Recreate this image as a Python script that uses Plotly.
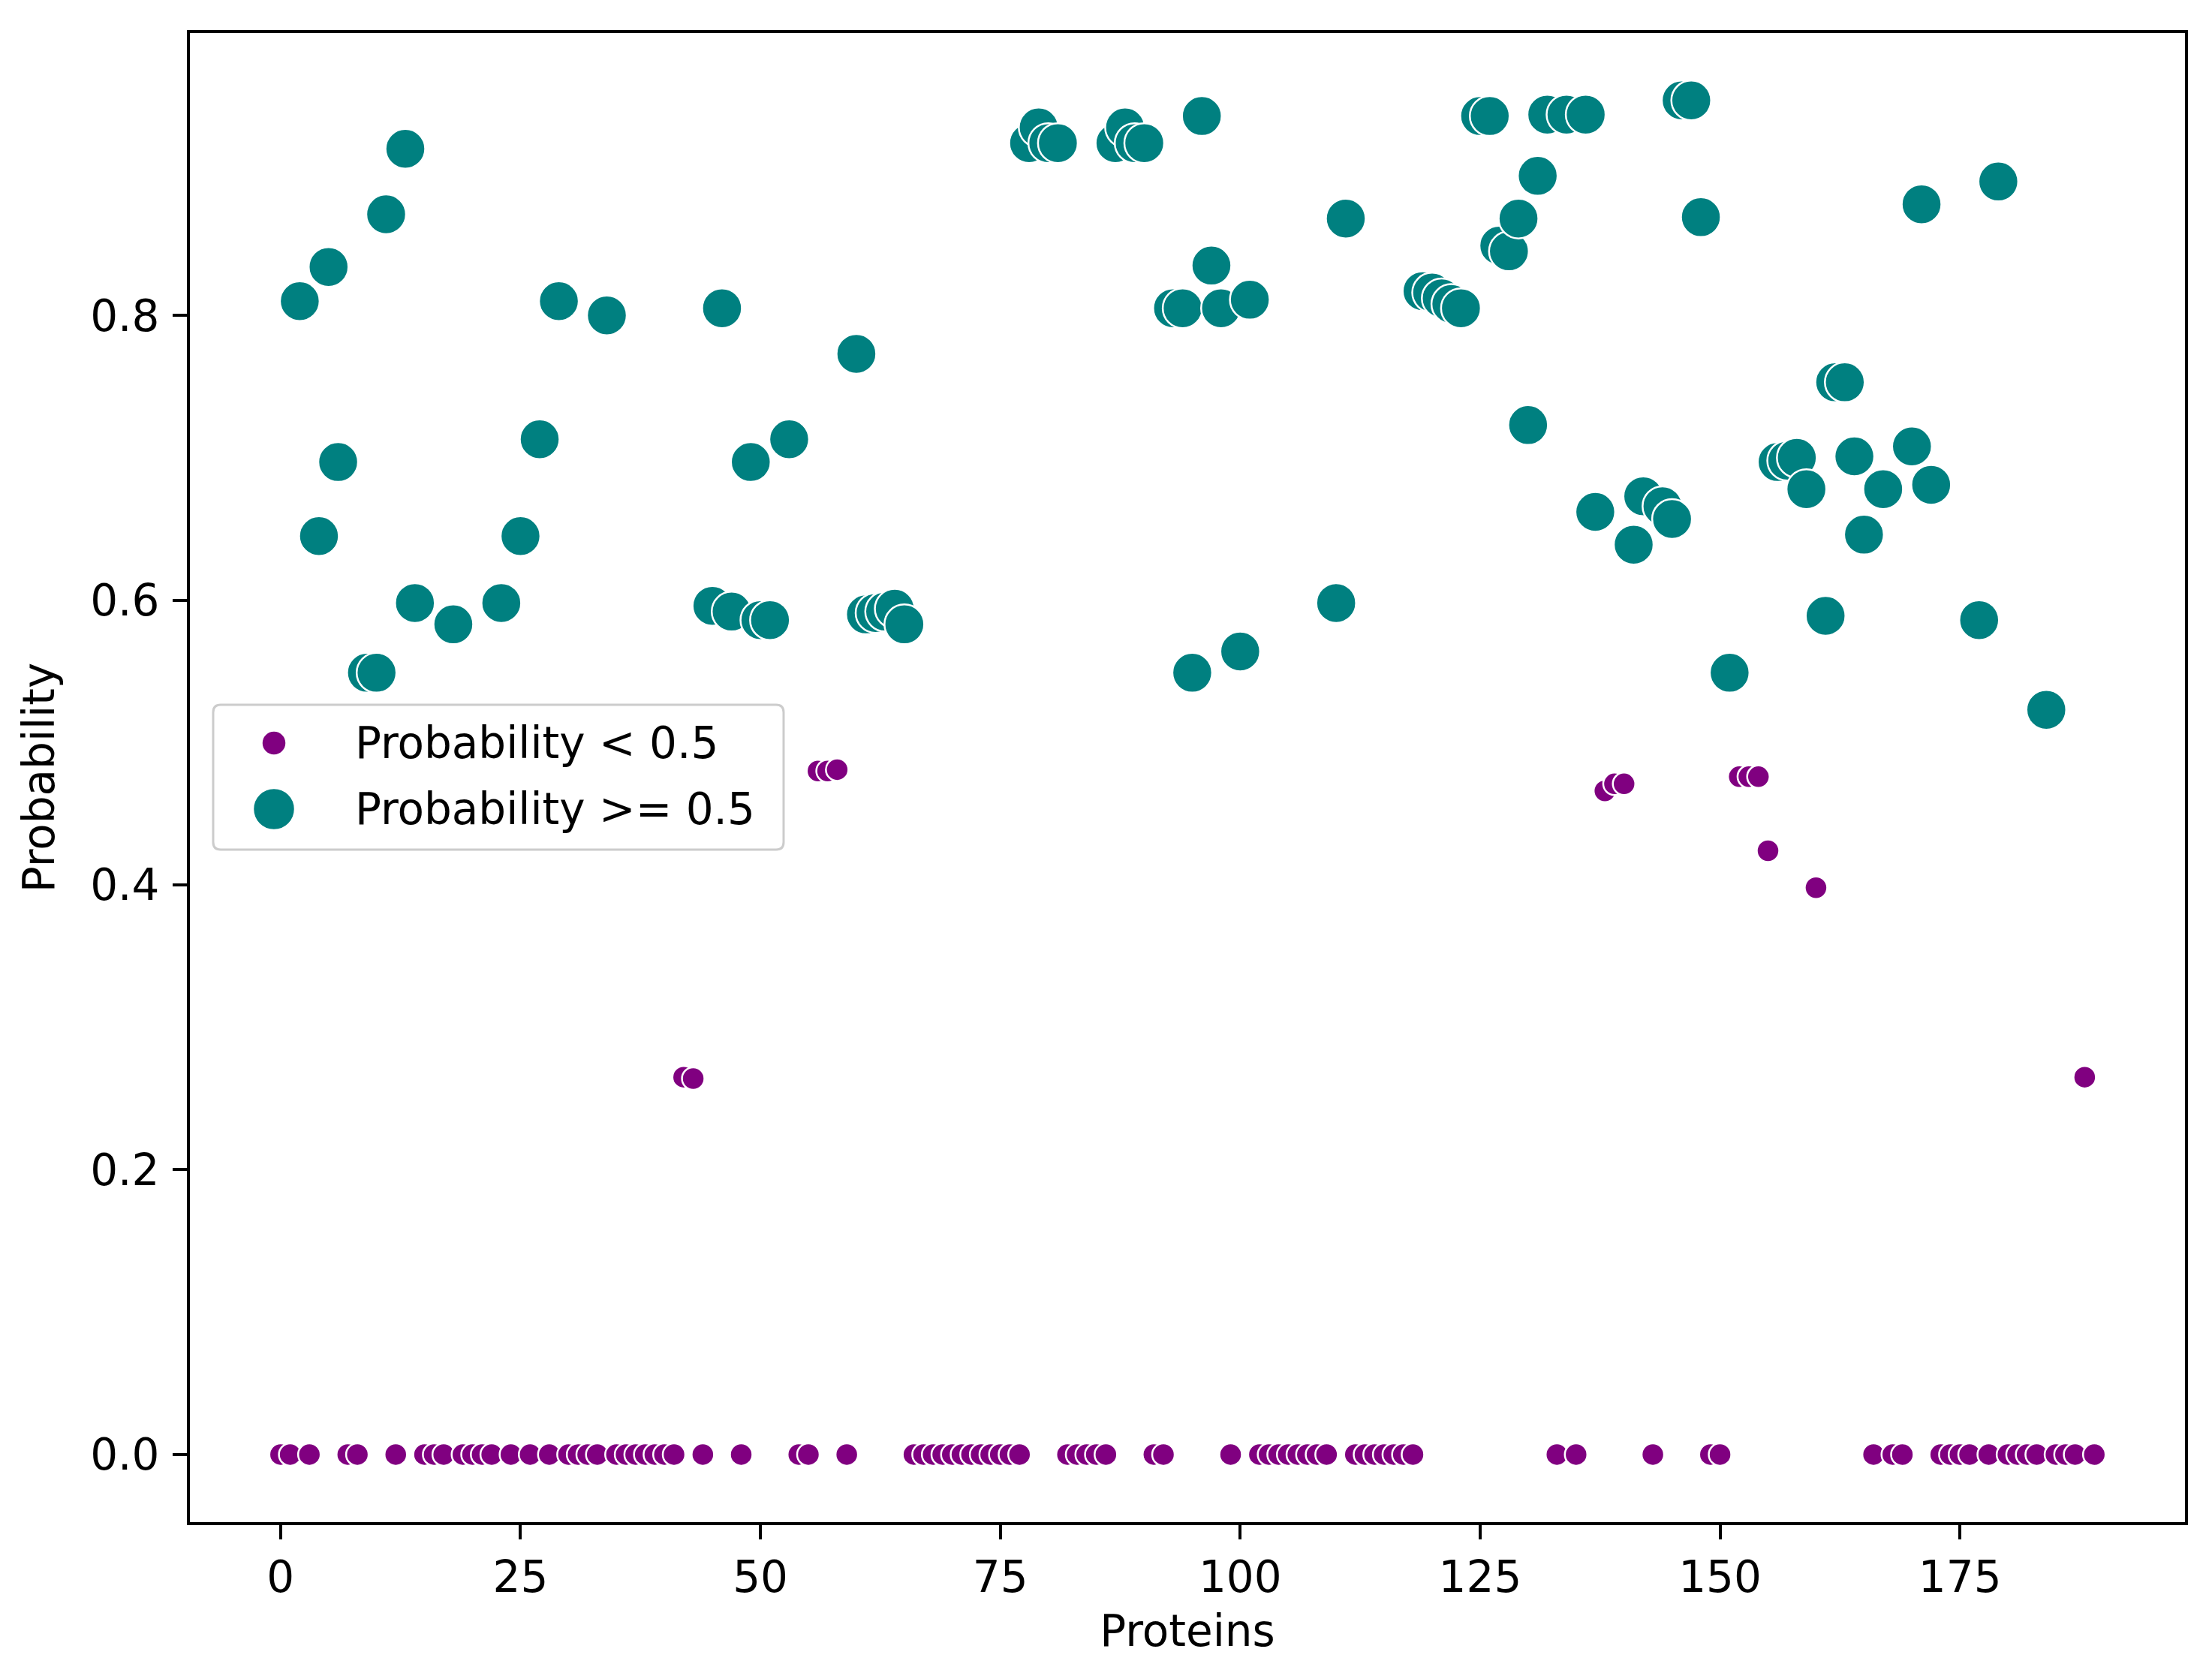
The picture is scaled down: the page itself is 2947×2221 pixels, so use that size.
import plotly.graph_objects as go

# ---------------- data ----------------
protein_id = [
    0, 1, 2, 3, 4, 5, 6, 7, 8, 9, 10, 11, 12, 13, 14, 15, 16, 17, 18, 19,
    20, 21, 22, 23, 24, 25, 26, 27, 28, 29, 30, 31, 32, 33, 34, 35, 36, 37, 38, 39,
    40, 41, 42, 43, 44, 45, 46, 47, 48, 49, 50, 51, 53, 54, 55, 56, 57, 58, 59,
    60, 61, 62, 63, 64, 65, 66, 67, 68, 69, 70, 71, 72, 73, 74, 75, 76, 77, 78, 79,
    80, 81, 82, 83, 84, 85, 86, 87, 88, 89, 90, 91, 92, 93, 94, 95, 96, 97, 98, 99,
    100, 101, 102, 103, 104, 105, 106, 107, 108, 109, 110, 111, 112, 113, 114, 115, 116, 117, 118, 119,
    120, 121, 122, 123, 125, 126, 127, 128, 129, 130, 131, 132, 133, 134, 135, 136, 137, 138, 139,
    140, 141, 142, 143, 144, 145, 146, 147, 148, 149, 150, 151, 152, 153, 154, 155, 156, 157, 158, 159,
    160, 161, 162, 163, 164, 165, 166, 167, 168, 169, 170, 171, 172, 173, 174, 175, 176, 177, 178, 179,
    180, 181, 182, 183, 184, 185, 186, 187, 188, 189,
]
probability = [
    0.0, 0.0, 0.810, 0.0, 0.645, 0.834, 0.697, 0.0, 0.0, 0.549, 0.549, 0.871, 0.0, 0.917, 0.598, 0.0, 0.0, 0.0, 0.583, 0.0,
    0.0, 0.0, 0.0, 0.598, 0.0, 0.645, 0.0, 0.713, 0.0, 0.810, 0.0, 0.0, 0.0, 0.0, 0.800, 0.0, 0.0, 0.0, 0.0, 0.0,
    0.0, 0.0, 0.265, 0.264, 0.0, 0.596, 0.805, 0.592, 0.0, 0.697, 0.586, 0.586, 0.713, 0.0, 0.0, 0.480, 0.480, 0.481, 0.0,
    0.773, 0.590, 0.591, 0.592, 0.594, 0.583, 0.0, 0.0, 0.0, 0.0, 0.0, 0.0, 0.0, 0.0, 0.0, 0.0, 0.0, 0.0, 0.921, 0.932,
    0.921, 0.921, 0.0, 0.0, 0.0, 0.0, 0.0, 0.921, 0.932, 0.921, 0.921, 0.0, 0.0, 0.805, 0.805, 0.549, 0.940, 0.835, 0.805, 0.0,
    0.564, 0.811, 0.0, 0.0, 0.0, 0.0, 0.0, 0.0, 0.0, 0.0, 0.598, 0.868, 0.0, 0.0, 0.0, 0.0, 0.0, 0.0, 0.0, 0.817,
    0.816, 0.812, 0.808, 0.805, 0.940, 0.940, 0.849, 0.845, 0.868, 0.723, 0.898, 0.941, 0.0, 0.941, 0.0, 0.941, 0.662, 0.466, 0.471,
    0.471, 0.639, 0.673, 0.0, 0.666, 0.657, 0.951, 0.951, 0.869, 0.0, 0.0, 0.549, 0.476, 0.476, 0.476, 0.424, 0.697, 0.698, 0.700, 0.678,
    0.398, 0.589, 0.753, 0.753, 0.701, 0.646, 0.0, 0.678, 0.0, 0.0, 0.708, 0.878, 0.681, 0.0, 0.0, 0.0, 0.0, 0.586, 0.0, 0.894,
    0.0, 0.0, 0.0, 0.0, 0.523, 0.0, 0.0, 0.0, 0.265, 0.0,
]
threshold = 0.5
group_labels = ["Probability < 0.5", "Probability >= 0.5"]
x_ticks = [0, 25, 50, 75, 100, 125, 150, 175]
y_ticks = [0.0, 0.2, 0.4, 0.6, 0.8]
y_tick_labels = ["0.0", "0.2", "0.4", "0.6", "0.8"]

# ---------------- style ----------------
W, H = 2947, 2221
L, R, T, B = 245, 44, 36, 201
PURPLE, TEAL = "#800080", "#008080"
FONT = "DejaVu Sans"
FS = 58
size_low, size_high = 30, 53

low_x = [i for i, p in zip(protein_id, probability) if p < threshold]
low_y = [p for p in probability if p < threshold]
high_x = [i for i, p in zip(protein_id, probability) if p >= threshold]
high_y = [p for p in probability if p >= threshold]

fig = go.Figure()
fig.add_trace(go.Scatter(
    x=low_x, y=low_y, mode="markers", name=group_labels[0], showlegend=False,
    marker=dict(color=PURPLE, size=size_low, line=dict(color="white", width=2.5)),
))
fig.add_trace(go.Scatter(
    x=high_x, y=high_y, mode="markers", name=group_labels[1], showlegend=False,
    marker=dict(color=TEAL, size=size_high, line=dict(color="white", width=2.5)),
))

pw, ph = W - L - R, H - T - B


def px(xp):
    return (xp - L) / pw


def py(yp):
    return (H - B - yp) / ph


def rounded_rect(x0, y0, x1, y1, r):
    # pixel box -> paper path with rounded corners
    pts = [
        ("M", [(x0 + r, y0)]), ("L", [(x1 - r, y0)]), ("Q", [(x1, y0), (x1, y0 + r)]),
        ("L", [(x1, y1 - r)]), ("Q", [(x1, y1), (x1 - r, y1)]),
        ("L", [(x0 + r, y1)]), ("Q", [(x0, y1), (x0, y1 - r)]),
        ("L", [(x0, y0 + r)]), ("Q", [(x0, y0), (x0 + r, y0)]),
    ]
    s = ""
    for cmd, coords in pts:
        s += cmd + " " + " ".join(f"{px(a):.5f},{py(b):.5f}" for a, b in coords) + " "
    return s + "Z"


# legend drawn with shapes so marker sizes match the plot
shapes = [dict(type="path", xref="paper", yref="paper",
               path=rounded_rect(276, 931, 1036, 1124, 10),
               line=dict(color="#cccccc", width=3), fillcolor="rgba(255,255,255,0.8)",
               layer="above")]
annotations = []
rows = [(982, PURPLE, size_low), (1070, TEAL, size_high)]
for (yy, col, sz), lab in zip(rows, group_labels):
    r = (sz + 2.5) / 2
    shapes.append(dict(type="circle", xref="paper", yref="paper",
                       xsizemode="pixel", ysizemode="pixel",
                       xanchor=px(357), yanchor=py(yy),
                       x0=-r, x1=r, y0=-r, y1=r,
                       fillcolor=col, line=dict(color="white", width=2), layer="above"))
    annotations.append(dict(xref="paper", yref="paper", x=px(463), y=py(yy),
                            xanchor="left", yanchor="middle", showarrow=False,
                            text=lab, font=dict(family=FONT, size=FS, color="black")))

axis_common = dict(
    showline=True, linecolor="black", linewidth=4, mirror=True,
    ticks="outside", ticklen=19, tickwidth=4, tickcolor="black",
    showgrid=False, zeroline=False,
    tickfont=dict(family=FONT, size=FS, color="black"),
)

fig.update_layout(
    width=W, height=H, autosize=False,
    margin=dict(l=L, r=R, t=T, b=B, pad=0),
    paper_bgcolor="white", plot_bgcolor="white",
    font=dict(family=FONT, size=FS, color="black"),
    xaxis=dict(range=[-9.45, 198.45], tickvals=x_ticks,
               title=dict(text="Proteins", font=dict(family=FONT, size=FS, color="black"), standoff=20),
               **axis_common),
    yaxis=dict(range=[-0.0475, 0.9983], tickvals=y_ticks, ticktext=y_tick_labels,
               ticklabelstandoff=6,
               title=dict(text="Probability", font=dict(family=FONT, size=FS, color="black"), standoff=30),
               **axis_common),
    shapes=shapes, annotations=annotations,
)

fig.write_html("out.html")
